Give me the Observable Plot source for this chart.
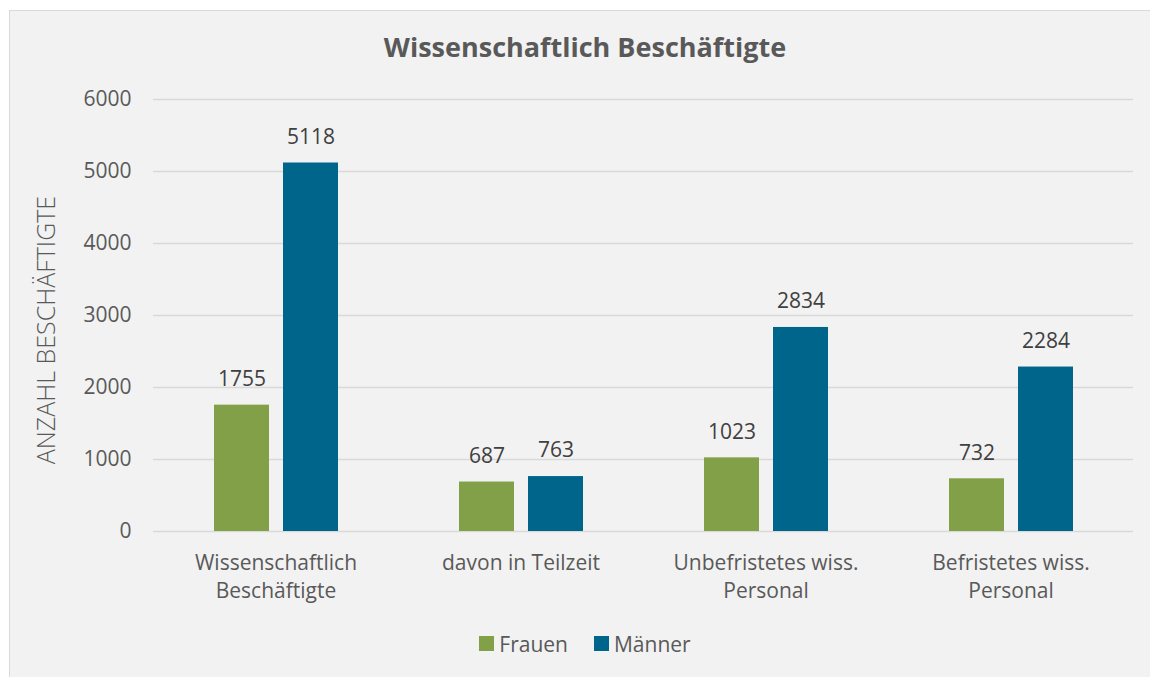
<!DOCTYPE html>
<html>
<head>
<meta charset="utf-8">
<script src="https://cdn.jsdelivr.net/npm/d3@7"></script>
<script src="https://cdn.jsdelivr.net/npm/@observablehq/plot@0.6"></script>
<style>
  html, body { margin: 0; padding: 0; background: #ffffff; }
  #wrap { position: relative; width: 1150px; height: 677px; overflow: hidden; font-family: "Open Sans", "Noto Sans", sans-serif; color: #595959; }
  #panel { position: absolute; left: 9px; top: 10px; width: 1160px; height: 700px; background: #f2f2f2; border: 1px solid #d9d9d9; box-sizing: border-box; }
  #title { position: absolute; left: 0; width: 1170px; top: 29px; text-align: center; font-size: 27px; font-weight: bold; line-height: 36px; }
  #chart { position: absolute; left: 0; top: 70px; }
  #ylabel { position: absolute; left: 45px; top: 330px; transform: translate(-50%, -50%) rotate(-90deg); white-space: nowrap; font-size: 25px; font-weight: 300; }
  #legend { position: absolute; left: 0; width: 1170px; top: 629px; text-align: center; font-size: 21px; line-height: 28px; }
  .item { display: inline-flex; align-items: center; margin: 0 13px; }
  .sw { display: inline-block; width: 15px; height: 15px; margin-right: 5px; }
</style>
</head>
<body>
<div id="wrap">
  <div id="panel"></div>
  <div id="title">Wissenschaftlich Beschäftigte</div>
  <div id="ylabel">ANZAHL BESCHÄFTIGTE</div>
  <div id="chart"></div>
  <div id="legend"></div>
</div>
<script>
const categories = ["Wissenschaftlich Beschäftigte", "davon in Teilzeit", "Unbefristetes wiss. Personal", "Befristetes wiss. Personal"];
const categoryLabels = ["Wissenschaftlich\nBeschäftigte", "davon in Teilzeit", "Unbefristetes wiss.\nPersonal", "Befristetes wiss.\nPersonal"];
const series = ["Frauen", "Männer"];
const frauen = [1755, 687, 1023, 732];
const maenner = [5118, 763, 2834, 2284];
const yTicks = [0, 1000, 2000, 3000, 4000, 5000, 6000];
const colors = ["#82a047", "#00658b"];

const data = [];
categories.forEach((c, i) => {
  data.push({category: c, series: series[0], value: frauen[i]});
  data.push({category: c, series: series[1], value: maenner[i]});
});
const labelOf = new Map(categories.map((c, i) => [c, categoryLabels[i]]));

const chart = Plot.plot({
  width: 1150,
  height: 550,
  marginTop: 29,
  marginBottom: 89,
  marginLeft: 153,
  marginRight: 17,
  style: {background: "transparent", color: "#595959", fontFamily: "'Open Sans', 'Noto Sans', sans-serif", fontSize: "21px"},
  fx: {domain: categories, padding: 0, label: null},
  x: {domain: series, paddingInner: 0.21, paddingOuter: 0.866, axis: null},
  y: {domain: [0, 6000], label: null},
  color: {domain: series, range: colors},
  marks: [
    Plot.ruleY(yTicks, {stroke: "#d9d9d9", strokeWidth: 1.5}),
    Plot.axisY({ticks: yTicks, tickSize: 0, tickPadding: 22, fontSize: 21, label: null, tickFormat: d => String(d)}),
    Plot.axisFx({anchor: "bottom", tickSize: 0, tickPadding: 19, fontSize: 21, lineHeight: 1.33, label: null, tickFormat: d => labelOf.get(d)}),
    Plot.barY(data, {fx: "category", x: "series", y: "value", fill: "series"}),
    Plot.text(data, {fx: "category", x: "series", y: "value", text: d => String(d.value), dy: -26, fontSize: 21, fill: "#404040"})
  ]
});
document.getElementById("chart").appendChild(chart);

const legend = document.getElementById("legend");
series.forEach((s, i) => {
  const item = document.createElement("span");
  item.className = "item";
  const sw = document.createElement("span");
  sw.className = "sw";
  sw.style.background = colors[i];
  item.appendChild(sw);
  item.appendChild(document.createTextNode(s));
  legend.appendChild(item);
});
</script>
</body>
</html>
